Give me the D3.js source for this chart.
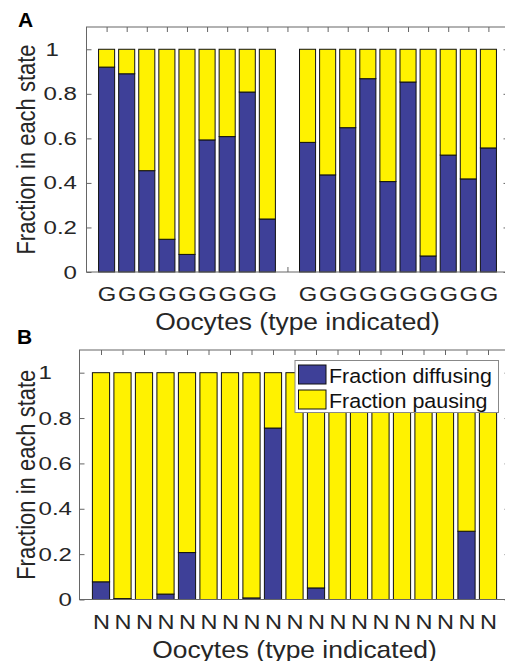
<!DOCTYPE html>
<html>
<head>
<meta charset="utf-8">
<script src="https://cdn.jsdelivr.net/npm/d3@7"></script>
<style>
  html, body { margin: 0; padding: 0; background: #fff; }
  svg { display: block; }
  text { font-family: "Liberation Sans", Arial, Helvetica, sans-serif; }
</style>
</head>
<body>
<svg id="chart" width="505" height="661"></svg>
<script>
// Oocyte categories (slot 10 of panel A is an empty spacer between the two groups)
const categoriesA = ["G","G","G","G","G","G","G","G","G","","G","G","G","G","G","G","G","G","G","G"];
const diffusingA  = [0.92, 0.89, 0.455, 0.147, 0.079, 0.593, 0.608, 0.808, 0.238, 0,
                     0.582, 0.436, 0.648, 0.868, 0.406, 0.853, 0.072, 0.525, 0.418, 0.557];
const pausingA    = [0.08, 0.11, 0.545, 0.853, 0.921, 0.407, 0.392, 0.192, 0.762, 0,
                     0.418, 0.564, 0.352, 0.132, 0.594, 0.147, 0.928, 0.475, 0.582, 0.443];

const categoriesB = ["N","N","N","N","N","N","N","N","N","N","N","N","N","N","N","N","N","N","N"];
const diffusingB  = [0.078, 0.004, 0, 0.024, 0.207, 0, 0, 0.007, 0.756, 0,
                     0.051, 0, 0, 0, 0, 0, 0, 0.301, 0];
const pausingB    = [0.922, 0.996, 1, 0.976, 0.793, 1, 1, 0.993, 0.244, 1,
                     0.949, 1, 1, 1, 1, 1, 1, 0.699, 1];

const yTicks = [0, 0.2, 0.4, 0.6, 0.8, 1];
const seriesNames = ["Fraction diffusing", "Fraction pausing"];
const seriesColors = ["#3e4098", "#fff200"];
const axisTitleX = "Oocytes (type indicated)";
const axisTitleY = "Fraction in each state";

const svg = d3.select("#chart");
const axisColor = "#666";
const textColor = "#262626";

// Place a text node at (x,y), stretched horizontally by sx
function stretched(sel, x, y, sx) {
  sel.attr("x", 0).attr("y", 0).attr("dy", null)
     .attr("transform", `translate(${x},${y}) scale(${sx},1)`);
}

function drawPanel(p) {
  const g = svg.append("g");
  const n = p.categories.length;

  const x = d3.scaleLinear().domain([0, n + 1]).range([p.left, p.right]);
  const y = d3.scaleLinear().domain([0, 1.1]).range([p.bottom, p.top]);
  const barW = x(0.8) - x(0);

  // bottom axis ticks (drawn beneath the bars)
  const xAxis = d3.axisBottom(x)
    .tickValues(d3.range(1, n + 1))
    .tickSizeInner(-5).tickSizeOuter(0)
    .tickFormat(i => p.categories[i - 1]);
  const gx = g.append("g").attr("transform", `translate(0,${p.bottom})`).call(xAxis);
  gx.select(".domain").remove();
  gx.selectAll("line").attr("stroke", axisColor);
  gx.selectAll("text")
    .attr("fill", textColor).attr("font-size", p.xTickFont).attr("text-anchor", "middle")
    .each(function () { stretched(d3.select(this), 0, p.xTickBase, p.xTickStretch); });

  // stacked bars
  const rows = p.categories.map((c, i) => ({ i: i + 1, diff: p.diffusing[i], paus: p.pausing[i] }));
  const stack = d3.stack().keys(["diff", "paus"])(rows);
  g.selectAll("g.series").data(stack).join("g")
    .attr("class", "series")
    .attr("fill", (d, k) => seriesColors[k])
    .selectAll("rect").data(d => d).join("rect")
    .attr("x", d => x(d.data.i) - barW / 2)
    .attr("width", barW)
    .attr("y", d => y(d[1]))
    .attr("height", d => y(d[0]) - y(d[1]))
    .attr("stroke", "#111").attr("stroke-width", 1);

  // frame
  g.append("rect")
    .attr("x", p.left).attr("y", p.top)
    .attr("width", p.right - p.left).attr("height", p.bottom - p.top)
    .attr("fill", "none").attr("stroke", axisColor).attr("stroke-width", 1);

  // top ticks
  const xTop = d3.axisTop(x).tickValues(d3.range(1, n + 1))
    .tickSizeInner(-5).tickSizeOuter(0).tickFormat("");
  const gt = g.append("g").attr("transform", `translate(0,${p.top})`).call(xTop);
  gt.select(".domain").remove();
  gt.selectAll("line").attr("stroke", axisColor);

  // right ticks
  const yRight = d3.axisRight(y).tickValues(yTicks).tickSizeInner(-5).tickSizeOuter(0).tickFormat("");
  const gr = g.append("g").attr("transform", `translate(${p.right},0)`).call(yRight);
  gr.select(".domain").remove();
  gr.selectAll("line").attr("stroke", axisColor);

  // left axis with labels
  const yAxis = d3.axisLeft(y).tickValues(yTicks).tickSizeInner(-5).tickSizeOuter(0)
    .tickFormat(d3.format("~g"));
  const gy = g.append("g").attr("transform", `translate(${p.left},0)`).call(yAxis);
  gy.select(".domain").remove();
  gy.selectAll("line").attr("stroke", axisColor);
  const labels = gy.selectAll("text")
    .attr("fill", textColor).attr("font-size", p.yTickFont).attr("dominant-baseline", "central");
  let widest = 0;
  labels.each(function () { widest = Math.max(widest, this.getComputedTextLength()); });
  labels.each(function (d) {
    const t = d3.select(this);
    if (d === 1) {
      // single-character label sits flush with the start of the wider labels
      t.attr("text-anchor", "start");
      stretched(t, -p.yTickPad - widest * p.yTickStretch + p.oneShift, 0, p.yTickStretch);
    } else {
      t.attr("text-anchor", "end");
      stretched(t, -p.yTickPad, 0, p.yTickStretch);
    }
  });

  // axis titles
  g.append("text").text(axisTitleX)
    .attr("fill", textColor).attr("font-size", p.xTitleFont).attr("text-anchor", "middle")
    .call(s => stretched(s, (p.left + p.right) / 2, p.bottom + p.xTitleOffset, p.xTitleStretch));
  g.append("text").text(axisTitleY)
    .attr("fill", textColor).attr("font-size", p.yTitleFont).attr("text-anchor", "middle")
    .attr("transform", `translate(${p.yTitleX},${(p.top + p.bottom) / 2}) scale(${p.yTitleStretch},1) rotate(-90)`);

  // panel letter
  g.append("text").text(p.letter)
    .attr("x", p.letterX).attr("y", p.letterY)
    .attr("font-size", 21).attr("font-weight", "bold").attr("fill", "#000");

  return { g, x, y };
}

drawPanel({
  categories: categoriesA, diffusing: diffusingA, pausing: pausingA,
  left: 86.5, right: 508.5, top: 27, bottom: 272,
  xTickFont: 19.5, xTickStretch: 1.22, xTickBase: 28.5,
  yTickFont: 18.5, yTickStretch: 1.3, yTickPad: 9.5, oneShift: 2,
  xTitleFont: 24, xTitleStretch: 1.1, xTitleOffset: 58,
  yTitleFont: 22, yTitleStretch: 1.18, yTitleX: 35,
  letter: "A", letterX: 18, letterY: 26.5
});

const pb = drawPanel({
  categories: categoriesB, diffusing: diffusingB, pausing: pausingB,
  left: 79.5, right: 509.5, top: 350, bottom: 599.5,
  xTickFont: 21, xTickStretch: 1.12, xTickBase: 29,
  yTickFont: 18.5, yTickStretch: 1.3, yTickPad: 7.5, oneShift: 0,
  xTitleFont: 24, xTitleStretch: 1.1, xTitleOffset: 58,
  yTitleFont: 22, yTitleStretch: 1.18, yTitleX: 35,
  letter: "B", letterX: 17, letterY: 344
});

// legend for panel B
const lg = pb.g.append("g").attr("transform", "translate(295,360.5)");
lg.append("rect").attr("width", 203.5).attr("height", 52)
  .attr("fill", "#fff").attr("stroke", "#888").attr("stroke-width", 1);
seriesNames.forEach((name, k) => {
  const row = lg.append("g").attr("transform", `translate(3.5,${4.5 + k * 25})`);
  row.append("rect").attr("width", 27.5).attr("height", 19)
    .attr("fill", seriesColors[k]).attr("stroke", "#111");
  row.append("text").text(name)
    .attr("fill", "#111").attr("font-size", 19.5)
    .attr("transform", "translate(30.5,17.5) scale(1.1,1)");
});
</script>
</body>
</html>
